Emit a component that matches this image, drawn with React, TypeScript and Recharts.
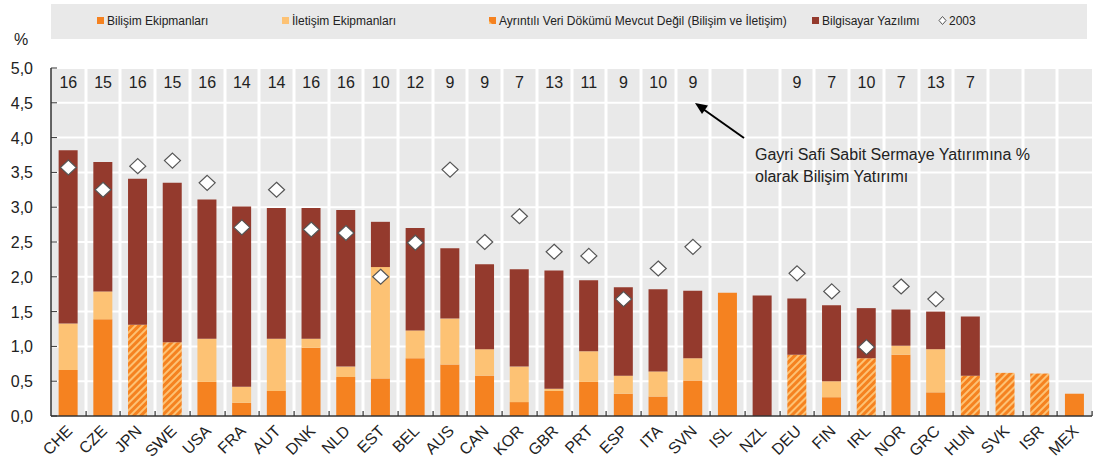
import React from 'react';
import { ComposedChart, Bar, Line, XAxis, YAxis, CartesianGrid } from 'recharts';

const codes = ['CHE', 'CZE', 'JPN', 'SWE', 'USA', 'FRA', 'AUT', 'DNK', 'NLD', 'EST', 'BEL', 'AUS', 'CAN', 'KOR', 'GBR', 'PRT', 'ESP', 'ITA', 'SVN', 'ISL', 'NZL', 'DEU', 'FIN', 'IRL', 'NOR', 'GRC', 'HUN', 'SVK', 'ISR', 'MEX'];

// segment heights, % of GFCF
const bilisim = [0.66, 1.39, null, null, 0.49, 0.19, 0.36, 0.98, 0.56, 0.54, 0.83, 0.74, 0.58, 0.2, 0.36, 0.49, 0.32, 0.28, 0.51, 1.77, null, null, 0.27, null, 0.88, 0.34, null, null, null, 0.32];
const iletisim = [0.67, 0.4, null, null, 0.62, 0.23, 0.75, 0.13, 0.15, 1.6, 0.4, 0.66, 0.38, 0.51, 0.03, 0.44, 0.26, 0.36, 0.32, null, null, null, 0.23, null, 0.13, 0.62, null, null, null, null];
const ayrintisiz = [null, null, 1.31, 1.06, null, null, null, null, null, null, null, null, null, null, null, null, null, null, null, null, null, 0.88, null, 0.83, null, null, 0.58, 0.62, 0.61, null];
const yazilim = [2.49, 1.86, 2.1, 2.29, 2.0, 2.59, 1.88, 1.88, 2.25, 0.65, 1.47, 1.01, 1.22, 1.4, 1.7, 1.02, 1.27, 1.18, 0.97, null, 1.73, 0.81, 1.09, 0.72, 0.52, 0.54, 0.85, null, null, null];
const y2003 = [3.57, 3.25, 3.59, 3.67, 3.35, 2.71, 3.25, 2.68, 2.63, 2.0, 2.49, 3.54, 2.5, 2.87, 2.36, 2.3, 1.68, 2.12, 2.43, null, null, 2.05, 1.79, 0.99, 1.86, 1.68, null, null, null, null];
// ICT share figures printed along the top
const topValues = [16, 15, 16, 15, 16, 14, 14, 16, 16, 10, 12, 9, 9, 7, 13, 11, 9, 10, 9, null, null, 9, 7, 10, 7, 13, 7, null, null, null];

const yTicks = [0, 0.5, 1, 1.5, 2, 2.5, 3, 3.5, 4, 4.5, 5];

const data = codes.map((code, i) => ({
    code,
    bilisim: bilisim[i],
    iletisim: iletisim[i],
    ayrintisiz: ayrintisiz[i],
    yazilim: yazilim[i],
    y2003: y2003[i],
}));

const ORANGE = '#f58220';
const LIGHT = '#fdc274';
const DARK = '#943a2d';
const BG = '#e9e9e9';
const TEXT = '#222';
const FONT = '"Liberation Sans", Arial, sans-serif';

const W = 1097;
const H = 462;
const PLOT_LEFT = 51;
const PLOT_RIGHT = 5;
const PLOT_TOP = 68;
const X_AXIS_H = 46;
const PLOT_BOTTOM = H - X_AXIS_H;
const BAND = (W - PLOT_LEFT - PLOT_RIGHT) / codes.length;
const separators: number[] = [];
for (let i = 1; i < codes.length; i++) separators.push(Math.round(PLOT_LEFT + i * BAND));

const YTick = ({ y, payload }: any) => (
    <g>
        <line x1={PLOT_LEFT} x2={PLOT_LEFT + 6} y1={y} y2={y} stroke="#333" />
        <text x={33} y={y + 6} textAnchor="end" fontSize={16} fill={TEXT} fontFamily={FONT}>
            {Number(payload.value).toFixed(1).replace('.', ',')}
        </text>
    </g>
);

const XTick = ({ x, y, payload, index }: any) => {
    const top = topValues[index];
    return (
        <g>
            <text
                x={x + 5}
                y={y + 16}
                textAnchor="end"
                fontSize={16}
                fill={TEXT}
                fontFamily={FONT}
                transform={`rotate(-45, ${x + 5}, ${y + 16})`}
            >
                {payload.value}
            </text>
            {top != null && (
                <text x={x} y={PLOT_TOP + 20} textAnchor="middle" fontSize={16} fill={TEXT} fontFamily={FONT}>
                    {top}
                </text>
            )}
        </g>
    );
};

const Diamond = ({ cx, cy, value }: any) => {
    if (value == null || cx == null || cy == null) return <g key={`d-${cx}`} />;
    return (
        <polygon
            key={`d-${cx}`}
            points={`${cx},${cy - 7.5} ${cx + 8},${cy} ${cx},${cy + 7.5} ${cx - 8},${cy}`}
            fill="#fff"
            stroke="#555"
            strokeWidth={1.2}
        />
    );
};

const legendItems = [
    { label: 'Bilişim Ekipmanları', x: 97, kind: 'ict' },
    { label: 'İletişim Ekipmanları', x: 282, kind: 'comm' },
    { label: 'Ayrıntılı Veri Dökümü Mevcut Değil (Bilişim ve İletişim)', x: 489, kind: 'na' },
    { label: 'Bilgisayar Yazılımı', x: 812, kind: 'soft' },
    { label: '2003', x: 939, kind: 'dot' },
];

function Backdrop() {
    return (
        <svg width={W} height={H} style={{ position: 'absolute', left: 0, top: 0 }}>
            <rect x={51} y={4} width={1036} height={35} fill={BG} />
            {legendItems.map((it) => (
                <g key={it.label}>
                    {it.kind === 'ict' && <rect x={it.x} y={17} width={7} height={7} fill={ORANGE} />}
                    {it.kind === 'comm' && <rect x={it.x} y={17} width={7} height={7} fill={LIGHT} />}
                    {it.kind === 'na' && (
                        <g>
                            <rect x={it.x} y={17} width={7} height={7} fill={ORANGE} />
                            <polygon points={`${it.x},${24} ${it.x},${21} ${it.x + 3},${24}`} fill={LIGHT} />
                        </g>
                    )}
                    {it.kind === 'soft' && <rect x={it.x} y={17} width={7} height={7} fill={DARK} />}
                    {it.kind === 'dot' && (
                        <polygon
                            points={`${it.x + 3.5},${16.5} ${it.x + 7},${20.5} ${it.x + 3.5},${24.5} ${it.x},${20.5}`}
                            fill="#fff"
                            stroke="#555"
                        />
                    )}
                    <text x={it.x + 10} y={25} fontSize={12} fill={TEXT} fontFamily={FONT}>
                        {it.label}
                    </text>
                </g>
            ))}
            <text x={14} y={45} fontSize={16} fill={TEXT} fontFamily={FONT}>%</text>
            <rect x={PLOT_LEFT} y={PLOT_TOP} width={W - PLOT_LEFT - PLOT_RIGHT} height={PLOT_BOTTOM - PLOT_TOP} fill={BG} />
            {separators.map((sx) => (
                <rect key={`s${sx}`} x={sx - 1.5} y={PLOT_TOP} width={3} height={PLOT_BOTTOM - PLOT_TOP} fill="#ffffff" />
            ))}
        </svg>
    );
}

function Overlay() {
    return (
        <svg width={W} height={H} style={{ position: 'absolute', left: 0, top: 0, pointerEvents: 'none' }}>
            {separators.concat([W - PLOT_RIGHT]).map((sx) => (
                <rect key={`t${sx}`} x={sx - 0.5} y={PLOT_BOTTOM - 5} width={1.2} height={5} fill="#333333" />
            ))}
            <line x1={744} y1={138} x2={703} y2={109} stroke="#000" strokeWidth={2} />
            <polygon points="695,103 708,105.5 702,114" fill="#000" />
            <text x={755} y={160} fontSize={16} fill={TEXT} fontFamily={FONT}>Gayri Safi Sabit Sermaye Yatırımına %</text>
            <text x={755} y={182} fontSize={16} fill={TEXT} fontFamily={FONT}>olarak Bilişim Yatırımı</text>
        </svg>
    );
}

export default function App() {
    return (
        <div style={{ position: 'absolute', left: 0, top: 0, width: W, height: H, background: '#fff', fontFamily: FONT }}>
            <Backdrop />
            <ComposedChart
                width={W}
                height={H}
                data={data}
                margin={{ top: PLOT_TOP, right: PLOT_RIGHT, bottom: 0, left: 0 }}
                barCategoryGap="22%"
                style={{ position: 'absolute', left: 0, top: 0 }}
            >
                <defs>
                    <pattern id="hatch" patternUnits="userSpaceOnUse" width="5" height="5" patternTransform="rotate(45)">
                        <rect width="5" height="5" fill={ORANGE} />
                        <rect width="2" height="5" fill={LIGHT} />
                    </pattern>
                </defs>
                <CartesianGrid stroke="#fff" strokeWidth={2} vertical={false} />
                <XAxis
                    dataKey="code"
                    height={X_AXIS_H}
                    interval={0}
                    tickSize={0}
                    tickMargin={0}
                    tickLine={false}
                    axisLine={{ stroke: '#333', strokeWidth: 1.5 }}
                    tick={<XTick />}
                />
                <YAxis
                    width={PLOT_LEFT}
                    domain={[0, 5]}
                    ticks={yTicks}
                    interval={0}
                    tickSize={0}
                    tickMargin={0}
                    tickLine={false}
                    axisLine={{ stroke: '#333', strokeWidth: 1.5 }}
                    tick={<YTick />}
                />
                <Bar dataKey="bilisim" stackId="a" fill={ORANGE} isAnimationActive={false} />
                <Bar dataKey="iletisim" stackId="a" fill={LIGHT} isAnimationActive={false} />
                <Bar dataKey="ayrintisiz" stackId="a" fill="url(#hatch)" isAnimationActive={false} />
                <Bar dataKey="yazilim" stackId="a" fill={DARK} isAnimationActive={false} />
                <Line dataKey="y2003" stroke="none" dot={<Diamond />} activeDot={false} isAnimationActive={false} />
            </ComposedChart>
            <Overlay />
        </div>
    );
}
